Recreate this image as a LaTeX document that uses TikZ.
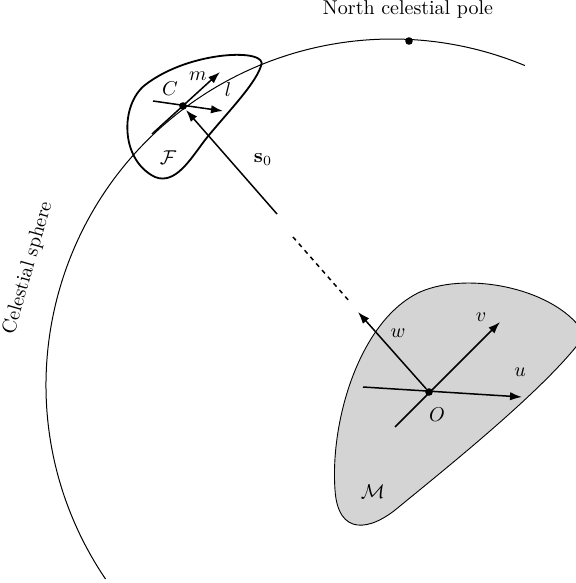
\documentclass[tikz,border=0pt]{standalone}
\usetikzlibrary{arrows.meta}
\begin{document}
\begin{tikzpicture}[x=0.5pt,y=-0.5pt,
  axis/.style={line width=0.75pt,-{Latex[length=6pt,width=4.2pt]}},
  lbl/.style={inner sep=0pt},
  dotc/.style={circle,fill=black,inner sep=0pt,minimum size=3.8pt}]
\useasboundingbox (0,0) rectangle (576,583);
% body M
\filldraw[fill=black!17, draw=black, line width=0.45pt]
  (585,335) .. controls (560,290) and (470,270) .. (420,292)
  .. controls (360,320) and (330,420) .. (335,490)
  .. controls (338,536) and (370,532) .. (400,506)
  .. controls (450,465) and (550,385) .. (585,335) -- cycle;
% celestial sphere
\draw[line width=0.5pt] (392,385) ++(145.9:346) arc[start angle=145.9, end angle=292.6, radius=346];
% field F
\draw[line width=0.9pt]
  (261,66) .. controls (270,48) and (190,50) .. (145,85)
  .. controls (120,105) and (120,160) .. (155,177)
  .. controls (175,185) and (190,160) .. (205,140)
  .. controls (225,115) and (255,85) .. (261,66) -- cycle;
% pole
\node[dotc] (P) at (409,41) {};
\node (NCP) at (408,10) {North celestial pole};
\node[rotate=74] (CS) at (28,268) {Celestial sphere};
% C and its axes
\node[dotc] (C) at (183,106) {};
\coordinate (la) at (153,101);
\coordinate (lb) at (223,111);
\coordinate (ma) at (152,134);
\coordinate (mb) at (220,72);
\draw[axis] (la) -- (lb);
\draw[axis] (ma) -- (mb);
\node[lbl] (Cl) at (170,89) {$C$};
\node[lbl] (ml) at (198,76) {$m$};
\node[lbl] (ll) at (228,90) {$l$};
\node[lbl] (Fl) at (168,158) {$\mathcal{F}$};
% s0
\coordinate (s0a) at (277,214);
\coordinate (s0b) at (186,110);
\draw[axis] (s0a) -- (s0b);
\node[lbl] (s0l) at (263,160) {$\mathbf{s}_0$};
\coordinate (da) at (293,237);
\coordinate (db) at (350,302);
\draw[line width=0.75pt, dash pattern=on 2.2pt off 2.2pt] (da) -- (db);
% O and its axes
\node[dotc] (O) at (429,392) {};
\coordinate (wb) at (358,312);
\coordinate (va) at (395,427);
\coordinate (vb) at (500,322);
\coordinate (ua) at (363,387);
\coordinate (ub) at (522,397);
\draw[axis] (O) -- (wb);
\draw[axis] (va) -- (vb);
\draw[axis] (ua) -- (ub);
\node[lbl] (wl) at (398,333) {$w$};
\node[lbl] (vl) at (481,317) {$v$};
\node[lbl] (ul) at (520,372) {$u$};
\node[lbl] (Ol) at (437,415) {$O$};
\node[lbl] (Ml) at (373,492) {$\mathcal{M}$};
\end{tikzpicture}
\end{document}
